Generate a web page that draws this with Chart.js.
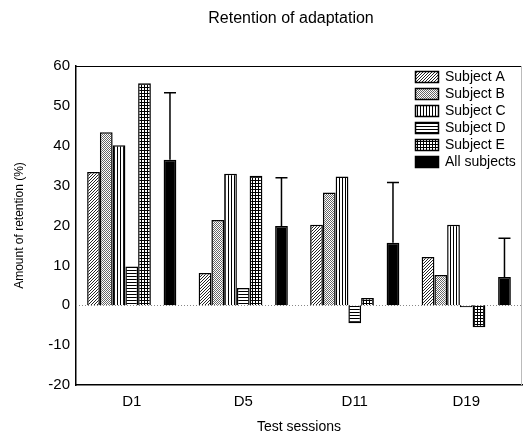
<!DOCTYPE html>
<html>
<head>
<meta charset="utf-8">
<script src="https://cdn.jsdelivr.net/npm/chart.js@4/dist/chart.umd.min.js"></script>
<style>
    html, body { margin: 0; padding: 0; background: #fff; }
    #wrap { width: 523px; height: 434px; }
</style>
</head>
<body>
<div id="wrap"><canvas id="retentionChart"></canvas></div>
<script>
// --- Data ---
const sessions = ['D1', 'D5', 'D11', 'D19'];
const subjectA = [33.4, 8.1, 20.2, 12.1];
const subjectB = [43.4, 21.4, 28.3, 7.6];
const subjectC = [40.1, 33.0, 32.3, 20.2];
const subjectD = [9.7, 4.3, -4.5, -0.5];
const subjectE = [55.7, 32.5, 1.8, -5.5];
const allSubjects = [36.5, 19.9, 15.7, 7.1];
const allSubjectsSD = [16.8, 12.1, 15.1, 9.7];
const yTicks = [-20, -10, 0, 10, 20, 30, 40, 50, 60];

document.addEventListener('DOMContentLoaded', function() {
    // --- Fill patterns for the bars ---
    function makePattern(w, h, draw) {
        const c = document.createElement('canvas');
        c.width = w; c.height = h;
        const g = c.getContext('2d');
        g.fillStyle = '#fff';
        g.fillRect(0, 0, w, h);
        draw(g);
        return g.createPattern(c, 'repeat');
    }

    const patA = makePattern(3, 3, g => {
        g.fillStyle = '#222';
        for (let i = 0; i < 3; i++) g.fillRect(2 - i, i, 1, 1);
    });
    const patB = makePattern(2, 2, g => {
        g.fillStyle = '#666';
        g.fillRect(0, 0, 1, 1);
        g.fillRect(1, 1, 1, 1);
    });
    const patC = makePattern(3, 1, g => {
        g.fillStyle = '#000';
        g.fillRect(0, 0, 1, 1);
    });
    const patD = makePattern(1, 3, g => {
        g.fillStyle = '#000';
        g.fillRect(0, 0, 1, 1);
    });
    const patE = makePattern(3, 3, g => {
        g.fillStyle = '#000';
        g.fillRect(0, 0, 3, 1);
        g.fillRect(0, 0, 1, 3);
    });

    function barSet(label, data, fill) {
        return {
            label: label,
            data: data,
            backgroundColor: fill,
            borderColor: '#000',
            borderWidth: 1.5,
            categoryPercentage: 0.8,
            barPercentage: 1.0
        };
    }

    const datasets = [
        barSet('Subject A', subjectA, patA),
        barSet('Subject B', subjectB, patB),
        barSet('Subject C', subjectC, patC),
        barSet('Subject D', subjectD, patD),
        barSet('Subject E', subjectE, patE),
        barSet('', sessions.map(() => null), 'rgba(0,0,0,0)'), // empty slot before the mean bar
        barSet('All subjects', allSubjects, '#000')
    ];

    // --- Frame, zero line, error bars, title and legend ---
    const decorPlugin = {
        id: 'decor',
        beforeDatasetsDraw(chart) {
            const ctx = chart.ctx;
            const a = chart.chartArea;
            const y0 = Math.round(chart.scales.y.getPixelForValue(0)) + 0.5;
            ctx.save();
            ctx.strokeStyle = '#888';
            ctx.lineWidth = 1;
            ctx.setLineDash([1, 2]);
            ctx.beginPath();
            ctx.moveTo(a.left, y0);
            ctx.lineTo(a.right, y0);
            ctx.stroke();
            ctx.restore();
        },
        afterDatasetsDraw(chart) {
            const ctx = chart.ctx;
            const a = chart.chartArea;
            const yScale = chart.scales.y;
            const meanIndex = chart.data.datasets.length - 1;
            const meta = chart.getDatasetMeta(meanIndex);

            ctx.save();
            // top frame line and faint right edge
            ctx.strokeStyle = '#000';
            ctx.lineWidth = 1;
            ctx.beginPath();
            ctx.moveTo(a.left, Math.round(a.top) + 0.5);
            ctx.lineTo(a.right, Math.round(a.top) + 0.5);
            ctx.stroke();
            ctx.strokeStyle = '#bbb';
            ctx.beginPath();
            ctx.moveTo(Math.round(a.right) - 0.5, a.top);
            ctx.lineTo(Math.round(a.right) - 0.5, a.bottom);
            ctx.stroke();

            // upward error bars on the mean bars
            ctx.strokeStyle = '#000';
            ctx.lineWidth = 1.5;
            meta.data.forEach((bar, i) => {
                const top = yScale.getPixelForValue(allSubjects[i] + allSubjectsSD[i]);
                const x = bar.x;
                ctx.beginPath();
                ctx.moveTo(x, bar.y);
                ctx.lineTo(x, top);
                ctx.moveTo(x - 6, top);
                ctx.lineTo(x + 6, top);
                ctx.stroke();
            });

            // legend inside the plot area
            ctx.font = '14px "Liberation Sans", Arial, sans-serif';
            ctx.textBaseline = 'middle';
            ctx.textAlign = 'left';
            let row = 0;
            chart.data.datasets.forEach(ds => {
                if (!ds.label) return;
                const yTop = 71 + row * 17;
                ctx.fillStyle = ds.backgroundColor;
                ctx.fillRect(415, yTop, 24, 12);
                ctx.strokeStyle = '#000';
                ctx.lineWidth = 1.5;
                ctx.strokeRect(415.5, yTop + 0.5, 23, 11);
                ctx.fillStyle = '#000';
                ctx.fillText(ds.label, 445, yTop + 6.5);
                row++;
            });

            // chart title
            ctx.font = '16px "Liberation Sans", Arial, sans-serif';
            ctx.textAlign = 'center';
            ctx.fillText('Retention of adaptation', 291, 19);
            ctx.restore();
        }
    };

    new Chart(document.getElementById('retentionChart'), {
        type: 'bar',
        data: { labels: sessions, datasets: datasets },
        options: {
            responsive: true,
            maintainAspectRatio: false,
            animation: false,
            layout: { padding: { top: 66, right: 1, left: 0, bottom: 0 } },
            plugins: {
                legend: { display: false },
                title: { display: false },
                tooltip: { enabled: false }
            },
            scales: {
                x: {
                    grid: { display: false, drawTicks: false },
                    border: { color: '#000', width: 1.5 },
                    ticks: {
                        color: '#000',
                        padding: 8,
                        font: { family: '"Liberation Sans", Arial, sans-serif', size: 15 }
                    },
                    title: {
                        display: true,
                        text: 'Test sessions',
                        color: '#000',
                        padding: { top: 0, bottom: 0 },
                        font: { family: '"Liberation Sans", Arial, sans-serif', size: 14, lineHeight: 1 }
                    },
                    afterFit(scale) { scale.height = 49; }
                },
                y: {
                    min: -20,
                    max: 60,
                    afterBuildTicks(scale) { scale.ticks = yTicks.map(v => ({ value: v })); },
                    grid: { display: false, drawTicks: false },
                    border: { color: '#000', width: 1.5 },
                    ticks: {
                        color: '#000',
                        padding: 6,
                        font: { family: '"Liberation Sans", Arial, sans-serif', size: 15 }
                    },
                    title: {
                        display: true,
                        text: 'Amount of retention (%)',
                        color: '#000',
                        padding: { top: 12, bottom: 0 },
                        font: { family: '"Liberation Sans", Arial, sans-serif', size: 12 }
                    },
                    afterFit(scale) { scale.width = 76; }
                }
            }
        },
        plugins: [decorPlugin]
    });
});
</script>
</body>
</html>
